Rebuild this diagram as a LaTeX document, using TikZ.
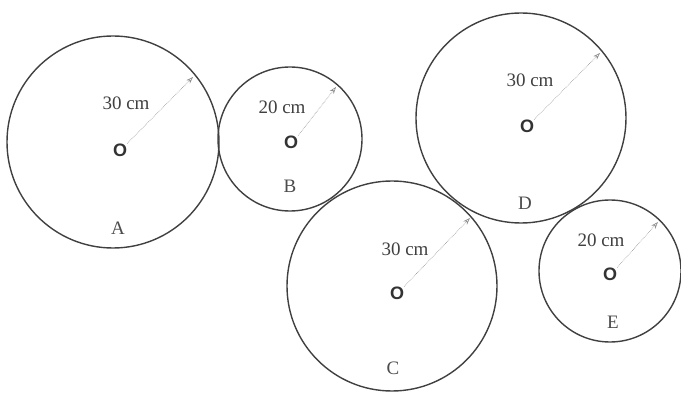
\documentclass[tikz,border=0pt]{standalone}
\usepackage{fontspec}
\setmainfont{Liberation Serif}
\newfontfamily\markfont{Liberation Sans}
\usetikzlibrary{arrows.meta}
\begin{document}
\begin{tikzpicture}[x=1pt,y=-1pt,
  wheel/.style={draw=black!75,line width=1.4pt},
  ctr/.style={inner sep=0pt,font=\markfont\bfseries\fontsize{18}{18}\selectfont,text=black!80},
  lbl/.style={inner sep=0pt,font=\fontsize{19}{19}\selectfont,text=black!70},
  rad/.style={inner sep=0pt,font=\fontsize{19}{19}\selectfont,text=black!75},
  radius arrow/.style={draw=black!45,line width=0.6pt,densely dotted,-{Stealth[length=7pt,width=5pt,open]}}]
\useasboundingbox (0,0) rectangle (681,393);
% circle centres
\coordinate (cA) at (113,142);
\coordinate (cB) at (290,139);
\coordinate (cC) at (392,286);
\coordinate (cD) at (521,118);
\coordinate (cE) at (610,271);
\draw[wheel] (cA) circle[radius=106];
\draw[wheel] (cB) circle[radius=72];
\draw[wheel] (cC) circle[radius=105];
\draw[wheel] (cD) circle[radius=105];
\draw[wheel] (cE) circle[radius=71];
% centre marks
\node[ctr] (oA) at (120,150) {O};
\node[ctr] (oB) at (291,142) {O};
\node[ctr] (oC) at (397,293) {O};
\node[ctr] (oD) at (527,126) {O};
\node[ctr] (oE) at (610,274) {O};
% arrow tips on the rims
\coordinate (tA) at (193,77);
\coordinate (tB) at (336,87);
\coordinate (tC) at (470,218);
\coordinate (tD) at (600,53);
\coordinate (tE) at (658,222);
\draw[radius arrow] (oA.north east) -- (tA);
\draw[radius arrow] (oB.north east) -- (tB);
\draw[radius arrow] (oC.north east) -- (tC);
\draw[radius arrow] (oD.north east) -- (tD);
\draw[radius arrow] (oE.north east) -- (tE);
% radius labels
\node[rad] (rA) at (126,103) {30 cm};
\node[rad] (rB) at (282,107) {20 cm};
\node[rad] (rC) at (405,249) {30 cm};
\node[rad] (rD) at (530,80) {30 cm};
\node[rad] (rE) at (601,240) {20 cm};
% names
\node[lbl] (nA) at (118,228) {A};
\node[lbl] (nB) at (290,186) {B};
\node[lbl] (nC) at (393,368) {C};
\node[lbl] (nD) at (525,203) {D};
\node[lbl] (nE) at (613,322) {E};
\end{tikzpicture}
\end{document}
